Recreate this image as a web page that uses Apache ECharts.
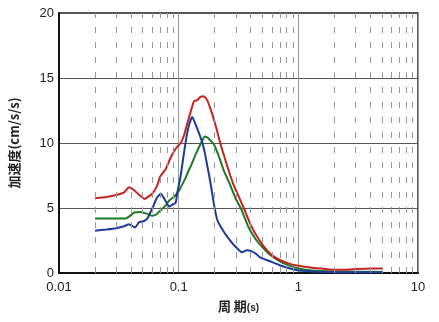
<!DOCTYPE html>
<html><head><meta charset="utf-8">
<script src="https://cdn.jsdelivr.net/npm/echarts@6/dist/echarts.min.js"></script>
<style>html,body{margin:0;padding:0;background:#fff}#c{width:439px;height:322px}</style>
</head><body><div id="c"></div>
<script>
const xTicks = [0.01, 0.1, 1, 10];
const yTicks = [0, 5, 10, 15, 20];
const minorPeriods = [0.02,0.03,0.04,0.05,0.06,0.07,0.08,0.09,0.2,0.3,0.4,0.5,0.6,0.7,0.8,0.9,2,3,4,5,6,7,8,9];

const redPeriod = [0.02,0.025,0.03,0.035,0.0385,0.042,0.047,0.052,0.06,0.066,0.07,0.078,0.086,0.095,0.104,0.11,0.118,0.126,0.134,0.143,0.152,0.162,0.173,0.185,0.197,0.21,0.224,0.24,0.255,0.27,0.287,0.31,0.35,0.4,0.467,0.58,0.7,0.85,1.0,1.3,1.7,2.0,2.5,3.0,4.0,5.0];
const redValue  = [5.75,5.85,6.0,6.2,6.6,6.4,6.0,5.7,6.1,6.7,7.4,8.0,8.9,9.6,10.0,10.5,11.5,12.4,13.2,13.3,13.55,13.6,13.3,12.6,11.8,10.9,9.9,9.0,8.2,7.5,6.8,6.1,5.0,3.7,2.6,1.5,1.0,0.7,0.55,0.4,0.3,0.25,0.25,0.3,0.35,0.35];

const greenPeriod = [0.02,0.03,0.036,0.04,0.0424,0.048,0.055,0.06,0.065,0.071,0.078,0.083,0.09,0.0944,0.1,0.107,0.114,0.12,0.126,0.134,0.143,0.152,0.16,0.165,0.175,0.184,0.197,0.21,0.224,0.238,0.26,0.28,0.3,0.33,0.38,0.44,0.5,0.58,0.7,0.85,1.0,1.3,2.0,3.0,5.0];
const greenValue  = [4.2,4.2,4.2,4.45,4.65,4.7,4.55,4.4,4.5,4.85,5.2,5.56,5.8,6.0,6.3,6.8,7.3,7.8,8.2,8.8,9.4,9.9,10.3,10.5,10.4,10.2,9.9,9.3,8.6,7.9,7.1,6.4,5.7,5.0,3.6,2.6,2.0,1.4,0.9,0.55,0.35,0.2,0.12,0.1,0.08];

const bluePeriod = [0.02,0.025,0.03,0.035,0.0385,0.0432,0.0466,0.0514,0.0548,0.0604,0.066,0.0708,0.075,0.078,0.0831,0.09,0.0944,0.0975,0.104,0.111,0.118,0.124,0.13,0.136,0.143,0.15,0.157,0.165,0.173,0.184,0.197,0.21,0.23,0.254,0.3,0.34,0.37,0.4,0.44,0.48,0.58,0.7,0.85,1.0,1.5,2.0,3.0,5.0];
const blueValue  = [3.25,3.35,3.45,3.6,3.75,3.5,3.9,4.0,4.2,5.0,5.8,6.1,5.8,5.5,5.1,5.3,5.4,6.2,7.5,9.3,10.8,11.6,12.0,11.6,11.1,10.6,10.1,9.3,8.3,7.0,5.3,4.1,3.4,2.8,2.0,1.6,1.75,1.7,1.5,1.2,0.9,0.6,0.35,0.2,0.1,0.06,0.05,0.05];

const zip = (a, b) => a.map((p, i) => [p, b[i]]);
const font = '"Liberation Sans", Arial, sans-serif';
const cjk = '"Noto Sans CJK JP", "Noto Sans CJK SC", sans-serif';

const chart = echarts.init(document.getElementById('c'), null, {renderer: 'canvas'});
chart.setOption({
  animation: false,
  backgroundColor: '#fff',
  grid: {left: 58, right: 21, top: 13, bottom: 49, show: true, borderColor: '#222', borderWidth: 1.5},
  xAxis: {
    type: 'log', logBase: 10, min: xTicks[0], max: xTicks[xTicks.length - 1],
    name: '周 期{s|(s)}', nameLocation: 'middle', nameGap: 27,
    nameTextStyle: {fontFamily: cjk, fontSize: 13, color: '#222', fontWeight: 'bold',
      rich: {s: {fontFamily: font, fontSize: 10, color: '#222', padding: [3, 0, 0, 0]}}},
    axisLine: {show: true, lineStyle: {color: '#111', width: 2}},
    axisTick: {show: false},
    axisLabel: {color: '#222', fontFamily: font, fontSize: 13, margin: 8,
      formatter: v => String(v)},
    splitLine: {show: true, lineStyle: {color: '#999', width: 1}},
    minorTick: {show: false}, minorSplitLine: {show: false}
  },
  yAxis: {
    type: 'value', min: yTicks[0], max: yTicks[yTicks.length - 1], interval: 5,
    name: '加速度(cm/s/s)', nameLocation: 'middle', nameGap: 38, nameRotate: 90,
    nameTextStyle: {fontFamily: cjk, fontSize: 13, color: '#222', fontWeight: 'bold'},
    axisLine: {show: true, lineStyle: {color: '#111', width: 2}},
    axisTick: {show: false},
    axisLabel: {color: '#222', fontFamily: font, fontSize: 13, margin: 5},
    splitLine: {show: true, lineStyle: {color: '#555', width: 1}}
  },
  series: [
    {type: 'line', name: 'grid', data: [], silent: true,
      markLine: {silent: true, symbol: 'none', label: {show: false},
        lineStyle: {color: '#999', width: 1, type: [6, 9]},
        data: minorPeriods.map(p => ({xAxis: p}))}},
    {type: 'line', name: 'green', data: zip(greenPeriod, greenValue), showSymbol: false,
      lineStyle: {color: '#1d7a25', width: 2}, smooth: 0.15},
    {type: 'line', name: 'blue', data: zip(bluePeriod, blueValue), showSymbol: false,
      lineStyle: {color: '#1c3b96', width: 2}, smooth: 0.15},
    {type: 'line', name: 'red', data: zip(redPeriod, redValue), showSymbol: false,
      lineStyle: {color: '#c42420', width: 2}, smooth: 0.15}
  ]
});
</script></body></html>
